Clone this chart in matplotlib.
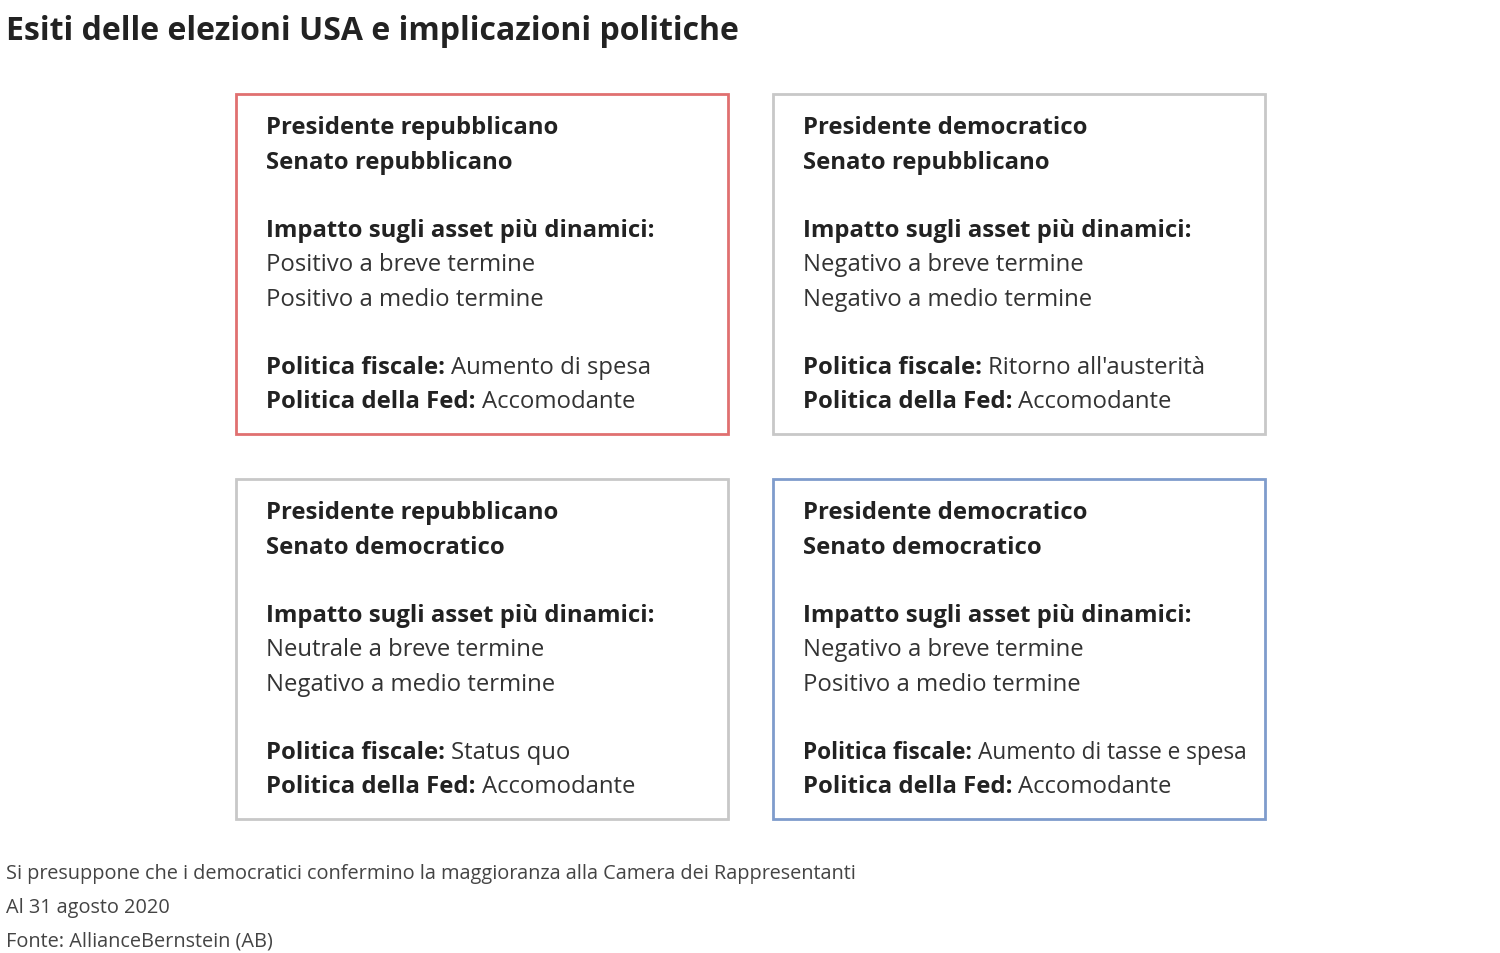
import matplotlib
matplotlib.use("Agg")
import matplotlib.pyplot as plt
from matplotlib.patches import Rectangle

title = "Esiti delle elezioni USA e implicazioni politiche"
presidents = ["Presidente repubblicano", "Presidente democratico", "Presidente repubblicano", "Presidente democratico"]
senates = ["Senato repubblicano", "Senato repubblicano", "Senato democratico", "Senato democratico"]
short_term = ["Positivo a breve termine", "Negativo a breve termine", "Neutrale a breve termine", "Negativo a breve termine"]
mid_term = ["Positivo a medio termine", "Negativo a medio termine", "Negativo a medio termine", "Positivo a medio termine"]
fiscal = ["Aumento di spesa", "Ritorno all'austerità", "Status quo", "Aumento di tasse e spesa"]
fed = ["Accomodante", "Accomodante", "Accomodante", "Accomodante"]
edge_colors = ["#e07070", "#c8c8c8", "#c8c8c8", "#7f9ccc"]
notes = ["Si presuppone che i democratici confermino la maggioranza alla Camera dei Rappresentanti",
         "Al 31 agosto 2020", "Fonte: AllianceBernstein (AB)"]

W, H = 1500, 954
fig = plt.figure(figsize=(15, 9.54), dpi=100)
ax = fig.add_axes([0, 0, 1, 1])
ax.set_xlim(0, W); ax.set_ylim(H, 0); ax.axis("off")
FONT = "Open Sans"
fig.canvas.draw()
r = fig.canvas.get_renderer()

ax.text(6, 32, title, fontsize=23, fontweight="bold", family=FONT, va="center", color="#222")

def mixed(x, y, bold, normal, fs):
    t = ax.text(x, y, bold, fontsize=fs, fontweight="bold", family=FONT, va="center", color="#222")
    bb = t.get_window_extent(renderer=r)
    ax.text(x + bb.width + 6, y, normal, fontsize=fs, family=FONT, va="center", color="#333")

pos = [(236, 95), (773, 95), (236, 480), (773, 480)]
for i, (bx, by) in enumerate(pos):
    ax.add_patch(Rectangle((bx, by), 492, 340, fill=False, edgecolor=edge_colors[i], lw=2))
    tx = bx + 30
    fs = 17.2
    ax.text(tx, by + 33, presidents[i], fontsize=fs, fontweight="bold", family=FONT, va="center", color="#222")
    ax.text(tx, by + 68, senates[i], fontsize=fs, fontweight="bold", family=FONT, va="center", color="#222")
    ax.text(tx, by + 136, "Impatto sugli asset più dinamici:", fontsize=fs, fontweight="bold", family=FONT, va="center", color="#222")
    ax.text(tx, by + 170, short_term[i], fontsize=fs, family=FONT, va="center", color="#333")
    ax.text(tx, by + 205, mid_term[i], fontsize=fs, family=FONT, va="center", color="#333")
    mixed(tx, by + 273, "Politica fiscale:", fiscal[i], fs if i != 3 else 16.3)
    mixed(tx, by + 307, "Politica della Fed:", fed[i], fs)

for k, n in enumerate(notes):
    ax.text(6, 874 + 34 * k, n, fontsize=14.3, family=FONT, va="center", color="#444")

fig.savefig("out.png", dpi=100)
